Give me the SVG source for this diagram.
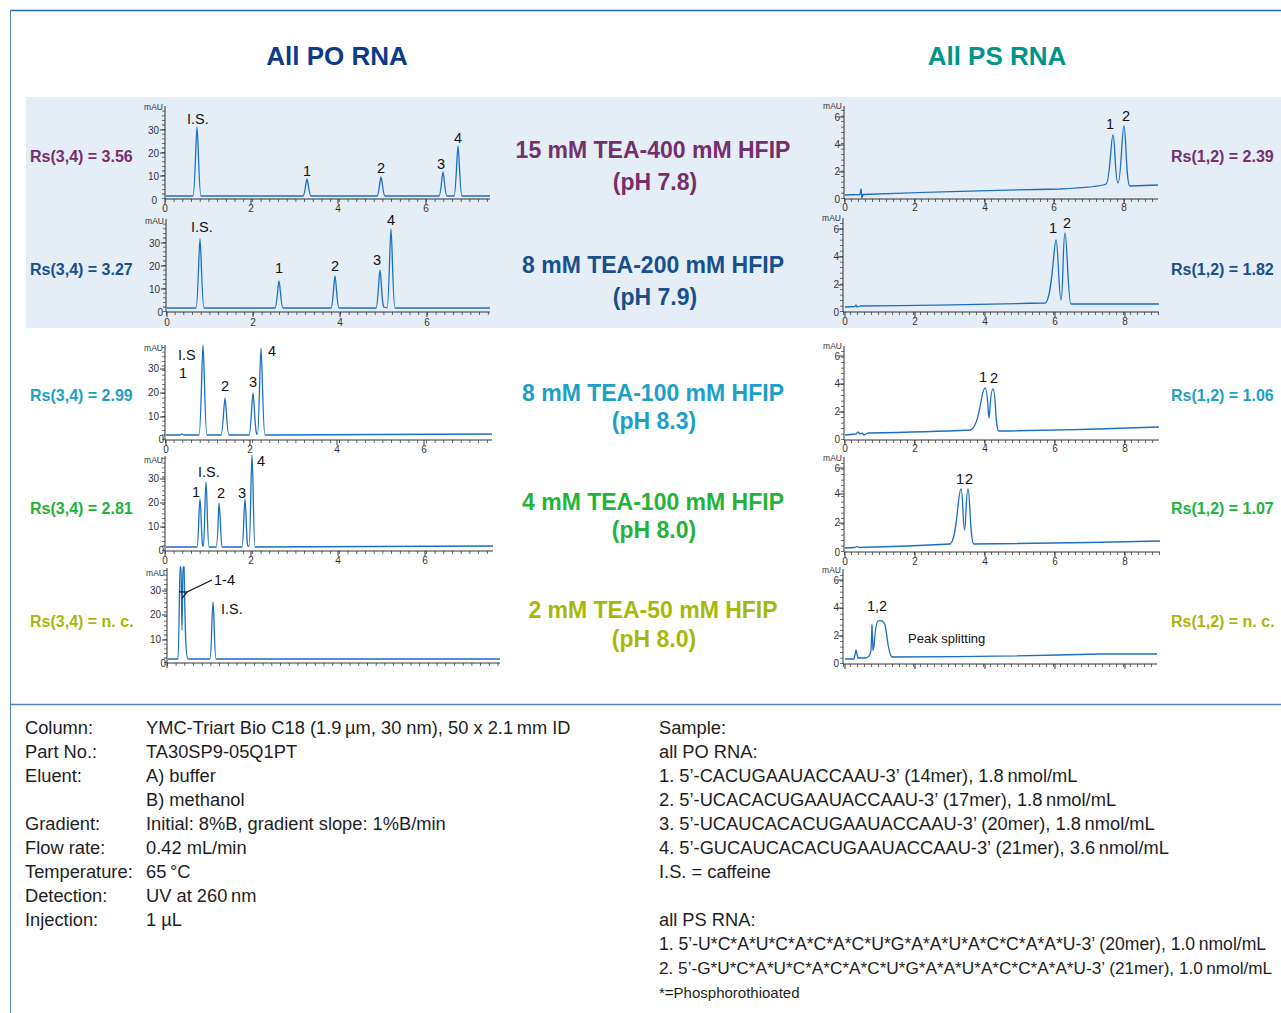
<svg xmlns="http://www.w3.org/2000/svg" width="1281" height="1013" viewBox="0 0 1281 1013">
<defs>
<marker id="arr" viewBox="0 0 10 10" refX="1" refY="5" markerWidth="9" markerHeight="9" orient="auto-start-reverse" markerUnits="userSpaceOnUse">
<path d="M9,1 L1,5 L9,9" fill="none" stroke="#111" stroke-width="1.3"/>
</marker>
</defs>
<style>
text{font-family:"Liberation Sans",Arial,sans-serif}
.ttl{font-size:26px;font-weight:bold;text-anchor:middle}
.cond{font-size:23px;font-weight:bold;text-anchor:middle}
.rs{font-size:16px;font-weight:bold}
.ax{fill:none;stroke:#333;stroke-width:1}
.tky{stroke:#444;stroke-width:3;stroke-dasharray:0.8 3.8}
.tkx{stroke:#444;stroke-width:3;stroke-dasharray:0.8 7.9}
.tkyr{stroke:#444;stroke-width:3;stroke-dasharray:0.8 4.7}
.tkxr{stroke:#444;stroke-width:3;stroke-dasharray:0.8 6.2}
.maj{stroke:#333;stroke-width:1}
.tkm{font-size:10px;fill:#333;text-anchor:middle}
.tke{font-size:10px;fill:#333;text-anchor:end}
.mau{font-size:8.5px;fill:#333;text-anchor:end}
.pk{font-size:14.5px;fill:#111}
.pkm{font-size:14.5px;fill:#111;text-anchor:middle}
.tr{fill:none;stroke:#1a6fc4;stroke-width:1.3;stroke-linejoin:round}
.info{font-size:18.3px;fill:#1e1e1e}
.ps{font-size:17.6px;fill:#1e1e1e}
.foot{font-size:15px;fill:#1e1e1e}
.c1{fill:#74306c}.c2{fill:#17508c}.c3{fill:#1d9fc6}.c4{fill:#24b33a}.c5{fill:#a8b80a}
</style>

<g id="frame">
<rect x="26" y="97" width="1255" height="231" fill="#e5edf7"/>
<line x1="10" y1="10.5" x2="1281" y2="10.5" stroke="#1f6bb8" stroke-width="1.6"/>
<line x1="10.5" y1="10" x2="10.5" y2="1013" stroke="#4d7fb8" stroke-width="1"/>
<line x1="10" y1="704.5" x2="1281" y2="704.5" stroke="#4d7fb8" stroke-width="1.4"/>
</g>

<g id="titles">
<text class="ttl" x="337" y="65" fill="#0c3b8a">All PO RNA</text>
<text class="ttl" x="997" y="65" fill="#00958a">All PS RNA</text>
</g>

<g id="conditions">
<text class="cond c1" x="653" y="158">15 mM TEA-400 mM HFIP</text>
<text class="cond c1" x="655" y="190">(pH 7.8)</text>
<text class="cond c2" x="653" y="273">8 mM TEA-200 mM HFIP</text>
<text class="cond c2" x="655" y="305">(pH 7.9)</text>
<text class="cond c3" x="653" y="401">8 mM TEA-100 mM HFIP</text>
<text class="cond c3" x="654" y="429">(pH 8.3)</text>
<text class="cond c4" x="653" y="510">4 mM TEA-100 mM HFIP</text>
<text class="cond c4" x="654" y="538">(pH 8.0)</text>
<text class="cond c5" x="653" y="618">2 mM TEA-50 mM HFIP</text>
<text class="cond c5" x="654" y="647">(pH 8.0)</text>
</g>

<g id="rs-values">
<text class="rs c1" x="30" y="162">Rs(3,4) = 3.56</text>
<text class="rs c2" x="30" y="275">Rs(3,4) = 3.27</text>
<text class="rs c3" x="30" y="401">Rs(3,4) = 2.99</text>
<text class="rs c4" x="30" y="514">Rs(3,4) = 2.81</text>
<text class="rs c5" x="30" y="627">Rs(3,4) = n. c.</text>
<text class="rs c1" x="1171" y="162">Rs(1,2) = 2.39</text>
<text class="rs c2" x="1171" y="275">Rs(1,2) = 1.82</text>
<text class="rs c3" x="1171" y="401">Rs(1,2) = 1.06</text>
<text class="rs c4" x="1171" y="514">Rs(1,2) = 1.07</text>
<text class="rs c5" x="1171" y="627">Rs(1,2) = n. c.</text>
</g>

<!-- PO panel 1 -->
<g id="po-1">
<line class="tky" x1="163.5" y1="199" x2="163.5" y2="108"/>
<line class="tkx" x1="165" y1="200.5" x2="490" y2="200.5"/>
<path class="maj" d="M160,176H165M160,153H165M160,130H165M165,199V204M251,199V204M338,199V204M426,199V204"/>
<path class="ax" d="M165,106V199H490"/>
<text class="mau" x="163" y="110">mAU</text>
<text class="tke" x="159" y="134">30</text><text class="tke" x="159" y="157">20</text><text class="tke" x="159" y="180">10</text><text class="tke" x="157" y="204">0</text>
<text class="tkm" x="165" y="212">0</text><text class="tkm" x="251" y="212">2</text><text class="tkm" x="338" y="212">4</text><text class="tkm" x="426" y="212">6</text>
<path class="tr" d="M166,196L193,196C195,196 196,127 197,127C198,127 199,196 201,196L303,196C305,196 306,179 307,179C308,179 309,196 311,196L377,196C379,196 380,177 381,177C382,177 383,196 385,196L439,196C441,196 442,172 443,172C444,172 445,196 447,196L454,196C456,196 457,146 458,146C459,146 460,196 462,196L490,196"/>
<text class="pk" x="187" y="124">I.S.</text>
<text class="pkm" x="307" y="176">1</text><text class="pkm" x="381" y="173">2</text><text class="pkm" x="441" y="169">3</text><text class="pkm" x="458" y="143">4</text>
</g>

<!-- PO panel 2 -->
<g id="po-2">
<line class="tky" x1="164.5" y1="312" x2="164.5" y2="221"/>
<line class="tkx" x1="166" y1="313.5" x2="490" y2="313.5"/>
<path class="maj" d="M161,289H166M161,266H166M161,243H166M167,312V317M253,312V317M340,312V317M427,312V317"/>
<path class="ax" d="M166,219V312H490"/>
<text class="mau" x="164" y="224">mAU</text>
<text class="tke" x="160" y="247">30</text><text class="tke" x="160" y="270">20</text><text class="tke" x="160" y="293">10</text><text class="tke" x="163" y="316">0</text>
<text class="tkm" x="167" y="326">0</text><text class="tkm" x="253" y="326">2</text><text class="tkm" x="340" y="326">4</text><text class="tkm" x="427" y="326">6</text>
<path class="tr" d="M167,308L196,308C198,308 199,239 200,239C201,239 202,308 204,308L275,308C277,308 278,281 279,281C280,281 281,308 283,308L331,308C333,308 334,276 335,276C336,276 337,308 339,308L376,308C378,308 379,270 380,270C381,270 382,308 384,307L387,308C389,308 390,229 391,229C392,229 393,308 395,308L490,308"/>
<text class="pk" x="191" y="232">I.S.</text>
<text class="pkm" x="279" y="273">1</text><text class="pkm" x="335" y="271">2</text><text class="pkm" x="377" y="265">3</text><text class="pkm" x="391" y="225">4</text>
</g>

<!-- PO panel 3 -->
<g id="po-3">
<line class="tky" x1="163.5" y1="440" x2="163.5" y2="347"/>
<line class="tkx" x1="165" y1="441.5" x2="492" y2="441.5"/>
<path class="maj" d="M160,417H165M160,393H165M160,369H165M166,440V445M250,440V445M337,440V445M424,440V445"/>
<path class="ax" d="M165,345V440H492"/>
<text class="mau" x="163" y="351">mAU</text>
<text class="tke" x="159" y="372">30</text><text class="tke" x="159" y="396">20</text><text class="tke" x="159" y="420">10</text><text class="tke" x="164" y="443">0</text>
<text class="tkm" x="166" y="453">0</text><text class="tkm" x="250" y="453">2</text><text class="tkm" x="337" y="453">4</text><text class="tkm" x="424" y="453">6</text>
<path class="tr" d="M166,435L180,435L182,434L184,435L199,435C201,435 202,345 203,345C204,345 205,435 207,435L221,435C223,435 224,398 225,398C226,398 227,435 229,435L249,435C251,435 252,393 253,393C254,393 255,435 257,434L257.5,434C259,434 260,348 261,348C262,348 263,435 265,435L492,434"/>
<text class="pk" x="178" y="360">I.S</text>
<text class="pkm" x="183" y="378">1</text><text class="pkm" x="225" y="391">2</text><text class="pkm" x="253" y="387">3</text><text class="pkm" x="272" y="356">4</text>
</g>

<!-- PO panel 4 -->
<g id="po-4">
<line class="tky" x1="163.5" y1="551" x2="163.5" y2="458"/>
<line class="tkx" x1="165" y1="552.5" x2="493" y2="552.5"/>
<path class="maj" d="M160,527H165M160,503H165M160,479H165M165,551V556M251,551V556M338,551V556M425,551V556"/>
<path class="ax" d="M165,456V551H493"/>
<text class="mau" x="163" y="463">mAU</text>
<text class="tke" x="159" y="482">30</text><text class="tke" x="159" y="506">20</text><text class="tke" x="159" y="530">10</text><text class="tke" x="164" y="554">0</text>
<text class="tkm" x="165" y="564">0</text><text class="tkm" x="251" y="564">2</text><text class="tkm" x="338" y="564">4</text><text class="tkm" x="425" y="564">6</text>
<path class="tr" d="M166,547L197,547C198.5,547 199,499 200,499C201,499 201.5,547 203,546L203.5,546C204.5,546 205,482 206,482C207,482 207.5,547 209,547L216,547C218,547 218.5,503 219,503C220,503 221,547 222,547L242,547C243.5,547 244,499 245,499C246,499 246.5,547 248,546L249,546C250.5,546 251,455 252,455C253,455 253.5,547 255,547L493,546"/>
<text class="pk" x="198" y="477">I.S.</text>
<text class="pkm" x="196" y="497">1</text><text class="pkm" x="221" y="498">2</text><text class="pkm" x="242" y="498">3</text><text class="pkm" x="261" y="466">4</text>
</g>

<!-- PO panel 5 -->
<g id="po-5">
<line class="tky" x1="165.5" y1="663" x2="165.5" y2="570"/>
<line class="tkx" x1="167" y1="664.5" x2="500" y2="664.5"/>
<path class="maj" d="M162,640H167M162,615H167M162,591H167M167,663V668"/>
<path class="ax" d="M167,568V663H500"/>
<text class="mau" x="165" y="576">mAU</text>
<text class="tke" x="161" y="594">30</text><text class="tke" x="161" y="618">20</text><text class="tke" x="161" y="643">10</text><text class="tke" x="166" y="667">0</text>
<path class="tr" d="M168,659L178,659C179,659 179.5,567 180,567L181,567C181.5,567 181.5,630 182,630C182.5,630 182.5,567 183,567L184,567C185,600 185,659 188,659L210,659C211.5,659 212,602 213,602C214,602 214.5,659 216,659L500,659"/>
<line x1="212" y1="580" x2="187" y2="592" stroke="#111" stroke-width="1.3" marker-end="url(#arr)"/>
<text class="pk" x="214" y="585">1-4</text>
<text class="pk" x="221" y="614">I.S.</text>
</g>

<!-- PS panel 1 -->
<g id="ps-1">
<line class="tkyr" x1="842.5" y1="199" x2="842.5" y2="108"/>
<line class="tkxr" x1="844" y1="200.5" x2="1158" y2="200.5"/>
<path class="maj" d="M839,172H844M839,145H844M839,117H844M845,199V204M915,199V204M985,199V204M1054,199V204M1124,199V204"/>
<path class="ax" d="M844,106V199H1158"/>
<text class="mau" x="842" y="109">mAU</text>
<text class="tke" x="840" y="121">6</text><text class="tke" x="840" y="148">4</text><text class="tke" x="840" y="175">2</text><text class="tke" x="840" y="203">0</text>
<text class="tkm" x="845" y="211">0</text><text class="tkm" x="915" y="211">2</text><text class="tkm" x="985" y="211">4</text><text class="tkm" x="1054" y="211">6</text><text class="tkm" x="1124" y="211">8</text>
<path class="tr" d="M845,195L860,194.5L861,189L862,198L863,194.5Q960,191 1060,189Q1100,187 1106,184C1110,183 1111,135 1113,135C1115,135 1115,183 1118,183C1121,183 1122,126 1124,126C1126,126 1126,186 1130,186L1158,185"/>
<text class="pkm" x="1110" y="129">1</text><text class="pkm" x="1126" y="121">2</text>
</g>

<!-- PS panel 2 -->
<g id="ps-2">
<line class="tkyr" x1="841.5" y1="312" x2="841.5" y2="220"/>
<line class="tkxr" x1="843" y1="313.5" x2="1159" y2="313.5"/>
<path class="maj" d="M838,285H843M838,257H843M838,229H843M845,312V317M915,312V317M985,312V317M1055,312V317M1125,312V317"/>
<path class="ax" d="M843,218V312H1159"/>
<text class="mau" x="841" y="221">mAU</text>
<text class="tke" x="839" y="233">6</text><text class="tke" x="839" y="260">4</text><text class="tke" x="839" y="288">2</text><text class="tke" x="839" y="316">0</text>
<text class="tkm" x="845" y="325">0</text><text class="tkm" x="915" y="325">2</text><text class="tkm" x="985" y="325">4</text><text class="tkm" x="1055" y="325">6</text><text class="tkm" x="1125" y="325">8</text>
<path class="tr" d="M845,307L855,306.5L856,305L857,307L860,306Q950,305 1045,303C1052,302 1054,240 1056,240C1058,240 1059,300 1061,300C1063,300 1063,233 1065,233C1067,233 1068,304 1071,304L1159,304"/>
<text class="pkm" x="1053" y="233">1</text><text class="pkm" x="1067" y="228">2</text>
</g>

<!-- PS panel 3 -->
<g id="ps-3">
<line class="tkyr" x1="842.5" y1="440" x2="842.5" y2="348"/>
<line class="tkxr" x1="844" y1="441.5" x2="1159" y2="441.5"/>
<path class="maj" d="M839,412H844M839,384H844M839,356H844M845,440V445M915,440V445M985,440V445M1055,440V445M1125,440V445"/>
<path class="ax" d="M844,346V440H1159"/>
<text class="mau" x="842" y="349">mAU</text>
<text class="tke" x="840" y="360">6</text><text class="tke" x="840" y="387">4</text><text class="tke" x="840" y="415">2</text><text class="tke" x="840" y="443">0</text>
<text class="tkm" x="845" y="452">0</text><text class="tkm" x="915" y="452">2</text><text class="tkm" x="985" y="452">4</text><text class="tkm" x="1055" y="452">6</text><text class="tkm" x="1125" y="452">8</text>
<path class="tr" d="M845,435L856,434L858,432L860,434L862,433L864,435L868,433Q930,432 970,430C980,428 981,388 985,388C988,388 988,418 989,418C990,418 990,389 993,389C996,389 995,431 999,431Q1080,430 1159,427"/>
<text class="pkm" x="983" y="382">1</text><text class="pkm" x="994" y="383">2</text>
</g>

<!-- PS panel 4 -->
<g id="ps-4">
<line class="tkyr" x1="842.5" y1="552" x2="842.5" y2="459"/>
<line class="tkxr" x1="844" y1="553.5" x2="1160" y2="553.5"/>
<path class="maj" d="M839,523H844M839,494H844M839,468H844M845,552V557M915,552V557M985,552V557M1055,552V557M1125,552V557"/>
<path class="ax" d="M844,457V552H1160"/>
<text class="mau" x="842" y="461">mAU</text>
<text class="tke" x="840" y="472">6</text><text class="tke" x="840" y="497">4</text><text class="tke" x="840" y="526">2</text><text class="tke" x="840" y="556">0</text>
<text class="tkm" x="845" y="565">0</text><text class="tkm" x="915" y="565">2</text><text class="tkm" x="985" y="565">4</text><text class="tkm" x="1055" y="565">6</text><text class="tkm" x="1125" y="565">8</text>
<path class="tr" d="M845,548L855,547.5L857,546.5L859,547.5Q910,546 950,544C957,542 958,489 961,489C963,489 963,530 964.5,530C966,530 966,489 968,489C970,489 970,544 974,544Q1070,543 1160,541"/>
<text class="pkm" x="960" y="484">1</text><text class="pkm" x="969" y="484">2</text>
</g>

<!-- PS panel 5 -->
<g id="ps-5">
<line class="tkyr" x1="841.5" y1="664" x2="841.5" y2="571"/>
<line class="tkxr" x1="843" y1="665.5" x2="1157" y2="665.5"/>
<path class="maj" d="M838,636H843M838,608H843M838,580H843M845,664V669M915,664V669M985,664V669M1055,664V669M1125,664V669"/>
<path class="ax" d="M843,569V664H1157"/>
<text class="mau" x="841" y="573">mAU</text>
<text class="tke" x="839" y="584">6</text><text class="tke" x="839" y="611">4</text><text class="tke" x="839" y="639">2</text><text class="tke" x="839" y="667">0</text>
<path class="tr" d="M845,659L854,659L856,650L858,658L866,658C869,657 870,656 871,650L872,625L873,650L874,646C875,632 876,622 878,621C881,620 884,621 885,625C887,632 888,655 892,657Q1000,657 1100,654L1157,654"/>
<text class="pk" x="867" y="611">1,2</text>
<text class="pk" x="908" y="643" style="font-size:13px">Peak splitting</text>
</g>

<g id="conditions-info">
<text class="info" x="25" y="734">Column:</text><text class="info" x="146" y="734">YMC-Triart Bio C18 (1.9&#8201;µm, 30 nm), 50 x 2.1&#8201;mm ID</text>
<text class="info" x="25" y="758">Part No.:</text><text class="info" x="146" y="758">TA30SP9-05Q1PT</text>
<text class="info" x="25" y="782">Eluent:</text><text class="info" x="146" y="782">A) buffer</text>
<text class="info" x="146" y="806">B) methanol</text>
<text class="info" x="25" y="830">Gradient:</text><text class="info" x="146" y="830">Initial: 8%B, gradient slope: 1%B/min</text>
<text class="info" x="25" y="854">Flow rate:</text><text class="info" x="146" y="854">0.42 mL/min</text>
<text class="info" x="25" y="878">Temperature:</text><text class="info" x="146" y="878">65&#8201;°C</text>
<text class="info" x="25" y="902">Detection:</text><text class="info" x="146" y="902">UV at 260&#8201;nm</text>
<text class="info" x="25" y="926">Injection:</text><text class="info" x="146" y="926">1 µL</text>
</g>

<g id="sample-info">
<text class="info" x="659" y="734">Sample:</text>
<text class="info" x="659" y="758">all PO RNA:</text>
<text class="info" x="659" y="782">1. 5’-CACUGAAUACCAAU-3’ (14mer), 1.8&#8201;nmol/mL</text>
<text class="info" x="659" y="806">2. 5’-UCACACUGAAUACCAAU-3’ (17mer), 1.8&#8201;nmol/mL</text>
<text class="info" x="659" y="830">3. 5’-UCAUCACACUGAAUACCAAU-3’ (20mer), 1.8&#8201;nmol/mL</text>
<text class="info" x="659" y="854">4. 5’-GUCAUCACACUGAAUACCAAU-3’ (21mer), 3.6&#8201;nmol/mL</text>
<text class="info" x="659" y="878">I.S. = caffeine</text>
<text class="info" x="659" y="926">all PS RNA:</text>
<text class="ps" x="659" y="950">1. 5’-U*C*A*U*C*A*C*A*C*U*G*A*A*U*A*C*C*A*A*U-3’ (20mer), 1.0&#8201;nmol/mL</text>
<text class="ps" x="659" y="974" style="font-size:17.2px">2. 5’-G*U*C*A*U*C*A*C*A*C*U*G*A*A*U*A*C*C*A*A*U-3’ (21mer), 1.0&#8201;nmol/mL</text>
<text class="foot" x="659" y="998">*=Phosphorothioated</text>
</g>
</svg>
